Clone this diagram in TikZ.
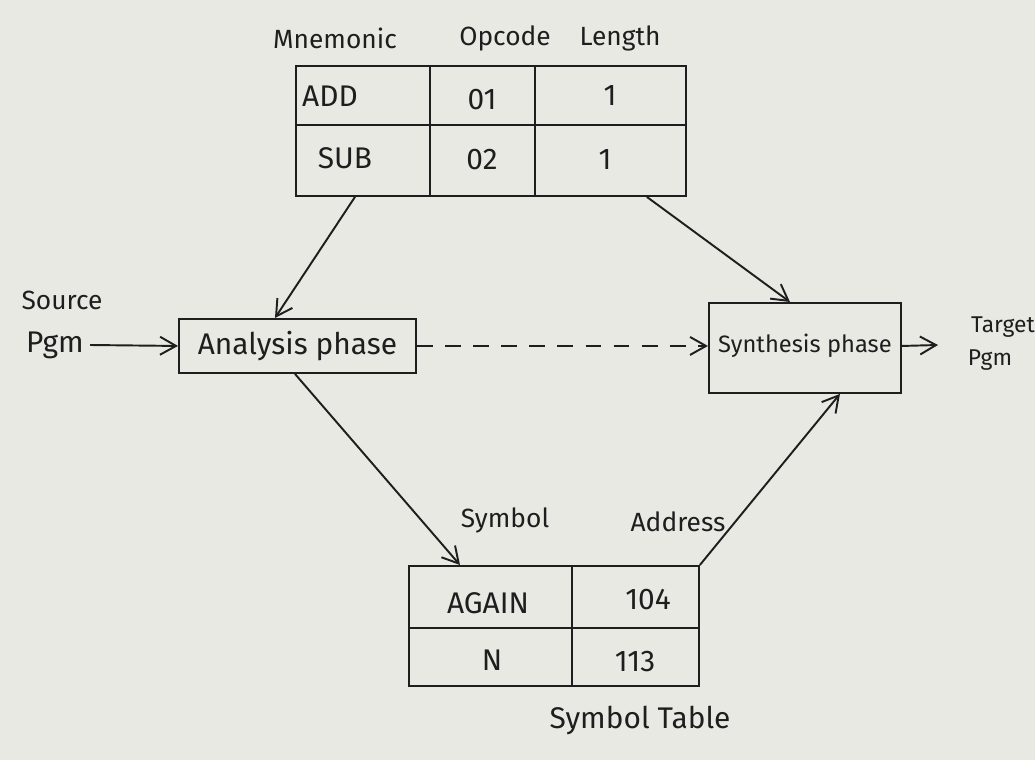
\documentclass[tikz,border=0pt]{standalone}
\usepackage{fontspec}
\setmainfont{Fira Sans}
\usetikzlibrary{arrows.meta}
\definecolor{paper}{HTML}{E9E9E4}
\definecolor{inkc}{HTML}{1E1E1E}
\begin{document}
\begin{tikzpicture}[x=0.02cm,y=-0.02cm,
  box/.style={draw=inkc, line width=1.1pt, inner sep=0pt},
  rule/.style={draw=inkc, line width=1.1pt},
  lbl/.style={text=inkc, font=\fontsize{17}{20}\selectfont},
  hdr/.style={text=inkc, font=\fontsize{15}{18}\selectfont},
  flow/.style={draw=inkc, line width=1.1pt, -{Straight Barb[length=3.2mm,width=3.6mm]}},
  ]
\fill[paper] (0,0) rectangle (1035,760);
\useasboundingbox (0,0) rectangle (1035,760);

% opcode table
\node (optab) [box, anchor=north west, minimum width=7.8cm, minimum height=2.6cm] at (295,65) {};
\draw[rule] (295,125) -- (685,125);
\draw[rule] (430,65) -- (430,195);
\draw[rule] (535,65) -- (535,195);
\node (hmn) [hdr] at (335,38) {Mnemonic};
\node (hop) [hdr] at (505,38) {Opcode};
\node (hln) [hdr] at (620,38) {Length};
\node (add) [lbl] at (330,96) {ADD};
\node (op1) [lbl] at (482,100) {01};
\node (ln1) [lbl] at (610,96) {1};
\node (sub) [lbl] at (345,158) {SUB};
\node (op2) [lbl] at (482,160) {02};
\node (ln2) [lbl] at (605,160) {1};

% phases
\node (ana) [box, anchor=north west, minimum width=4.74cm, minimum height=1.08cm] at (178,318) {};
\node (anat) [lbl] at (ana.center) {Analysis phase};
\node (syn) [box, anchor=north west, minimum width=3.84cm, minimum height=1.8cm] at (708,302) {};
\node (synt) [lbl, font=\fontsize{13.5}{16}\selectfont] at ([yshift=0.05cm]syn.center) {Synthesis phase};

% source and target
\node (srca) [hdr] at (62,300) {Source};
\node (srcb) [lbl] at (55,345) {Pgm};
\node (tgta) [hdr, font=\fontsize{13}{16}\selectfont] at (1003,327) {Target};
\node (tgtb) [hdr, font=\fontsize{13}{16}\selectfont] at (990,360) {Pgm};
\coordinate (tgtend) at (938,345);

% symbol table
\node (sym) [box, anchor=north west, minimum width=5.8cm, minimum height=2.4cm] at (408,565) {};
\draw[rule] (408,628) -- (698,628);
\draw[rule] (572,565) -- (572,685);
\node (hsy) [hdr] at (505,520) {Symbol};
\node (had) [hdr] at (678,522) {Address};
\node (s1) [lbl] at (488,603) {AGAIN};
\node (a1) [lbl] at (648,600) {104};
\node (s2) [lbl] at (492,660) {N};
\node (a2) [lbl] at (635,662) {113};
\node (symt) [lbl] at (640,720) {Symbol Table};

% connectors
\draw[flow] ([xshift=1.2cm]optab.south west) -- ([xshift=1.94cm]ana.north west);
\draw[flow] ([xshift=-0.8cm]optab.south east) -- ([xshift=1.64cm]syn.north west);
\draw[flow] (srcb.east) -- (ana.west);
\draw[flow, dashed, dash pattern=on 9pt off 7pt] (ana.east) -- (ana.east -| syn.west);
\draw[flow] (syn.east |- ana.east) -- (tgtend);
\draw[flow] ([xshift=2.34cm]ana.south west) -- ([xshift=1.04cm]sym.north west);
\draw[flow] (sym.north east) -- ([xshift=2.64cm]syn.south west);
\end{tikzpicture}
\end{document}
